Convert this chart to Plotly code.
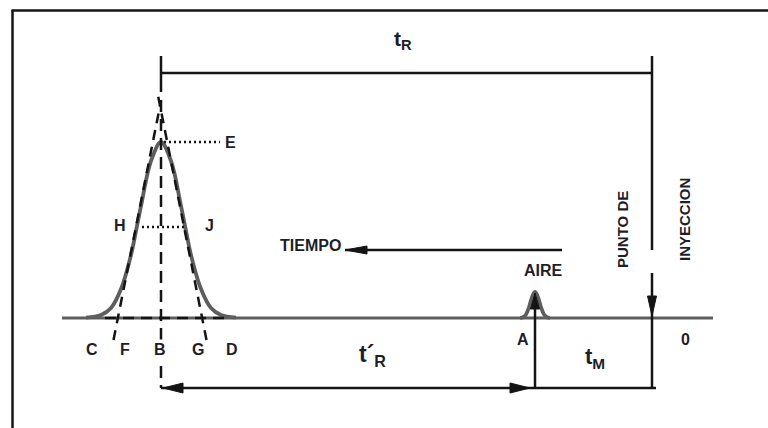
import plotly.graph_objects as go

# ---------------- data (time units: 0 = injection point, time grows to the left) ----------------
t_inj = 0.0          # injection point
t_M = 11.7           # air peak (dead time)
t_R = 49.1           # retention time of the solute peak
baseline_t = [59.0, -6.1]

# solute peak profile: offset from t_R and signal height
peak_dt = [7.5, 6.0, 5.0, 4.0, 3.0, 2.5, 2.0, 1.0, 0.0, -1.0, -2.0, -2.5, -3.0, -4.0, -5.0, -6.0, -7.5]
peak_s = [0.003, 0.03, 0.10, 0.29, 0.63, 0.87, 1.12, 1.57, 1.76, 1.57, 1.12, 0.87, 0.63, 0.29, 0.10, 0.03, 0.003]

# air peak profile: offset from t_M and signal height
air_dt = [1.5, 1.2, 0.9, 0.6, 0.3, 0.0, -0.3, -0.6, -0.9, -1.2, -1.5]
air_s = [0.001, 0.007, 0.035, 0.107, 0.208, 0.26, 0.208, 0.107, 0.035, 0.007, 0.001]

# tangent lines (inflection tangents) endpoints
tan_left_t = [53.85, 49.1]
tan_left_s = [-0.22, 2.17]
tan_right_t = [44.55, 49.45]
tan_right_s = [-0.22, 2.25]

# levels
s_peak = 1.76        # E level
s_half = 0.91        # H-J level
s_bracket = 2.45     # t_R bracket
s_tick_top = 2.62
s_tick_bot = 2.26
s_bottom = -0.70     # lower bracket
s_dash_top = 2.18    # top of vertical dashed line at B
s_inj_gap_top = 0.68
s_inj_arrow_top = 0.45
s_tiempo = 0.68
t_tiempo = [30.7, 9.0]
t_dash_base = [54.7, 42.4]
t_dot_E = [48.8, 43.2]
t_dot_HJ = [51.0, 46.5]
t_bottom_end = -0.4

labels = ["C", "F", "B", "G", "D"]
labels_t = [56.0, 52.7, 49.2, 45.4, 42.0]
labels_s = -0.31

# ---------------- figure ----------------
PX_T = 10.0    # pixels per time unit
PX_S = 100.0   # pixels per signal unit
t_range = [65.2, -11.6]
s_range = [-1.10, 3.18]

BLACK = "#141414"
GRAY = "#5e5e5e"
TXT = "#1e1e28"
FONT = "Liberation Sans, Arial, sans-serif"

fig = go.Figure()

def line(xs, ys, color=BLACK, width=2.5, dash="solid", shape="linear"):
    fig.add_trace(go.Scatter(x=xs, y=ys, mode="lines", hoverinfo="skip",
                             line=dict(color=color, width=width, dash=dash, shape=shape)))

# baseline and peaks
line(baseline_t, [0, 0], color=GRAY, width=3.2)
line([t_R + d for d in peak_dt], peak_s, color=GRAY, width=3.8, shape="spline")
line([t_M + d for d in air_dt], air_s, color=GRAY, width=3.8, shape="spline")

# dashed construction lines
line(tan_left_t, tan_left_s, dash="10px,7px")
line(tan_right_t, tan_right_s, dash="10px,7px")
line([t_R, t_R], [s_dash_top, s_bottom], dash="12px,7px")
line(t_dash_base, [0, 0], dash="11px,7px")

# dotted lines
line(t_dot_E, [s_peak, s_peak], width=2.5, dash="2px,3px")
line(t_dot_HJ, [s_half, s_half], width=2.5, dash="2px,3px")

# t_R bracket
line([t_R, t_inj], [s_bracket, s_bracket])
line([t_R, t_R], [s_tick_top, s_tick_bot])
line([t_inj, t_inj], [s_tick_top, s_inj_gap_top])
line([t_inj, t_inj], [s_inj_arrow_top, s_bottom])

# lower brackets
line([t_R, t_bottom_end], [s_bottom, s_bottom])
line([t_M, t_M], [s_bottom, 0.20])
line(t_tiempo, [s_tiempo, s_tiempo])

# arrowheads (tip, direction); sizes in pixels
def head(t, s, direction, length=20, half=4.5):
    if direction == "left":
        xs = [t, t - length / PX_T, t - length / PX_T, t]
        ys = [s, s + half / PX_S, s - half / PX_S, s]
    elif direction == "right":
        xs = [t, t + length / PX_T, t + length / PX_T, t]
        ys = [s, s + half / PX_S, s - half / PX_S, s]
    elif direction == "up":
        xs = [t, t + half / PX_T, t - half / PX_T, t]
        ys = [s, s - length / PX_S, s - length / PX_S, s]
    else:
        xs = [t, t + half / PX_T, t - half / PX_T, t]
        ys = [s, s + length / PX_S, s + length / PX_S, s]
    fig.add_trace(go.Scatter(x=xs, y=ys, mode="lines", fill="toself", fillcolor=BLACK,
                             line=dict(color=BLACK, width=1), hoverinfo="skip"))

head(t_tiempo[0], s_tiempo, "left", 22, 4)
head(t_inj, 0.02, "down", 20, 4.5)
head(t_M, 0.25, "up", 16, 4.5)
head(12.2, s_bottom, "right", 20, 5)
head(48.9, s_bottom, "left", 20, 5)

# text labels
def text(t, s, txt, size=16, angle=0, xanchor="center", bg=None):
    fig.add_annotation(x=t, y=s, xref="x", yref="y", text=txt, showarrow=False,
                       textangle=angle, xanchor=xanchor, yanchor="middle",
                       bgcolor=bg, borderpad=1,
                       font=dict(family=FONT, size=size, color=TXT))

for lab, lt in zip(labels, labels_t):
    text(lt, labels_s, "<b>%s</b>" % lab, 16, bg="white" if lab == "B" else None)
text(53.2, s_half + 0.02, "<b>H</b>", 16)
text(44.3, s_half + 0.02, "<b>J</b>", 16)
text(42.2, s_peak, "<b>E</b>", 16)
text(12.9, -0.21, "<b>A</b>", 16)
text(-3.3, -0.21, "<b>0</b>", 16)
text(10.9, 0.48, "<b>AIRE</b>", 16)
text(30.9, 0.73, "<b>TIEMPO</b>", 16, xanchor="right")
text(24.9, 2.78, "<b>t<sub>R</sub></b>", 21)
text(28.0, -0.37, "<b>t´<sub>R</sub></b>", 23)
text(5.7, -0.40, "<b>t<sub>M</sub></b>", 22)
text(3.0, 0.88, "<b>PUNTO DE</b>", 15, angle=-90)
text(-3.2, 0.98, "<b>INYECCION</b>", 15, angle=-90)

# frame
fig.add_shape(type="line", xref="paper", yref="paper", x0=12.5 / 768, x1=12.5 / 768,
              y0=0, y1=1 - 10 / 428, line=dict(color=BLACK, width=2.5))
fig.add_shape(type="line", xref="paper", yref="paper", x0=11.5 / 768, x1=1,
              y0=1 - 10.5 / 428, y1=1 - 10.5 / 428, line=dict(color=BLACK, width=2.5))

fig.update_layout(
    width=768, height=428, autosize=False,
    margin=dict(l=0, r=0, t=0, b=0),
    paper_bgcolor="white", plot_bgcolor="white",
    showlegend=False,
    xaxis=dict(range=t_range, visible=False, fixedrange=True),
    yaxis=dict(range=s_range, visible=False, fixedrange=True),
)

fig.write_html("out.html", post_script="document.body.style.margin='0';",
               config={"displayModeBar": False})
